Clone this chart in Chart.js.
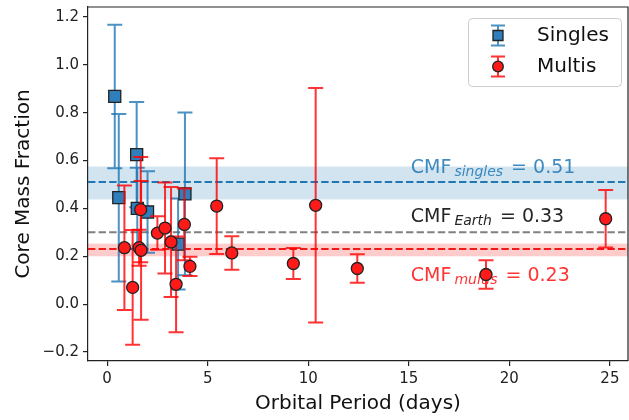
<!DOCTYPE html>
<html>
<head>
<meta charset="utf-8">
<script src="https://cdn.jsdelivr.net/npm/chart.js@4.4.1/dist/chart.umd.min.js"></script>
<style>
  html, body { margin: 0; padding: 0; background: #fff; }
  canvas { display: block; }
</style>
</head>
<body>
<canvas id="cmfChart" width="629" height="420"></canvas>
<script>
// Singles (blue squares)
const singlesPeriod = [0.38, 0.58, 1.47, 1.50, 2.01, 3.87, 3.53];
const singlesCmf    = [0.868, 0.445, 0.625, 0.40, 0.385, 0.461, 0.251];
const singlesErr    = [0.30, 0.35, 0.22, 0.17, 0.17, 0.34, 0.19];

// Multis (red circles)
const multisPeriod = [0.86, 1.27, 1.59, 1.69, 1.67, 2.50, 2.88, 3.18, 3.43, 3.84, 4.12, 5.45, 6.20, 9.26, 10.37, 12.44, 18.84, 24.79];
const multisCmf    = [0.236, 0.07, 0.236, 0.225, 0.395, 0.297, 0.318, 0.26, 0.083, 0.333, 0.158, 0.41, 0.214, 0.17, 0.413, 0.149, 0.124, 0.357];
const multisErr    = [0.26, 0.24, 0.075, 0.29, 0.22, 0.07, 0.19, 0.23, 0.20, 0.15, 0.04, 0.20, 0.07, 0.065, 0.49, 0.06, 0.06, 0.12];

// Reference levels: mean lines, shaded ranges and their labels
const levelNames  = ['singles', 'Earth', 'multis'];
const levelLines  = [0.51, 0.30, 0.23];
const levelLow    = [0.4375, null, 0.20];
const levelHigh   = [0.575, null, 0.253];
const levelLabels = ['0.51', '0.33', '0.23'];

const xTicks = [0, 5, 10, 15, 20, 25];
const yTicks = [-0.2, 0.0, 0.2, 0.4, 0.6, 0.8, 1.0, 1.2];

const FONT = '"DejaVu Sans", sans-serif';
const BLUE = '#1f77b4';

const toPoints = (xs, ys) => xs.map((x, i) => ({ x: x, y: ys[i] }));

// Error bars drawn right before each dataset's markers
const errorBars = {
    id: 'errorBars',
    beforeDatasetDraw(chart, args) {
        const ds = chart.data.datasets[args.index];
        if (!ds.errors) return;
        const { ctx, chartArea, scales: { x, y } } = chart;
        ctx.save();
        ctx.beginPath();
        ctx.rect(chartArea.left, chartArea.top, chartArea.width, chartArea.height);
        ctx.clip();
        ctx.strokeStyle = ds.errorColor;
        ctx.lineWidth = 2;
        ds.data.forEach((p, i) => {
            const px = x.getPixelForValue(p.x);
            const top = y.getPixelForValue(p.y + ds.errors[i]);
            const bot = y.getPixelForValue(p.y - ds.errors[i]);
            ctx.beginPath();
            ctx.moveTo(px, top); ctx.lineTo(px, bot);
            ctx.moveTo(px - 7.5, top); ctx.lineTo(px + 7.5, top);
            ctx.moveTo(px - 7.5, bot); ctx.lineTo(px + 7.5, bot);
            ctx.stroke();
        });
        ctx.restore();
    }
};

function drawCmfLabel(ctx, x, yBase, sub, val, color) {
    ctx.fillStyle = color;
    ctx.textBaseline = 'alphabetic';
    ctx.textAlign = 'left';
    ctx.font = '19px ' + FONT;
    ctx.fillText('CMF', x, yBase);
    let cx = x + ctx.measureText('CMF').width + 3;
    ctx.font = 'italic 14px ' + FONT;
    ctx.fillText(sub, cx, yBase + 3);
    cx += ctx.measureText(sub).width + 8;
    ctx.font = '19px ' + FONT;
    ctx.fillText('= ' + val, cx, yBase);
}

// Shaded ranges, dashed mean lines and their labels
const levels = {
    id: 'levels',
    beforeDatasetsDraw(chart) {
        const { ctx, chartArea: a, scales: { x, y } } = chart;
        const fills = ['rgba(31,119,180,0.2)', null, 'rgba(255,0,0,0.2)'];
        const lines = [BLUE, '#808080', '#f01a1a'];
        const texts = ['rgba(31,119,180,0.85)', '#262626', 'rgba(255,0,0,0.8)'];
        const textY = [0.55, 0.343, 0.097];
        ctx.save();
        levelNames.forEach((name, i) => {
            if (levelLow[i] !== null) {
                const t = y.getPixelForValue(levelHigh[i]);
                const b = y.getPixelForValue(levelLow[i]);
                ctx.fillStyle = fills[i];
                ctx.fillRect(a.left, t, a.width, b - t);
            }
        });
        levelNames.forEach((name, i) => {
            const py = y.getPixelForValue(levelLines[i]);
            ctx.strokeStyle = lines[i];
            ctx.lineWidth = 2;
            ctx.setLineDash([7.4, 3.2]);
            ctx.beginPath();
            ctx.moveTo(a.left, py);
            ctx.lineTo(a.right, py);
            ctx.stroke();
        });
        ctx.setLineDash([]);
        levelNames.forEach((name, i) => {
            drawCmfLabel(ctx, x.getPixelForValue(15.1), y.getPixelForValue(textY[i]), name, levelLabels[i], texts[i]);
        });
        ctx.restore();
    }
};

// Box frame and legend with error bar markers
const frameAndLegend = {
    id: 'frameAndLegend',
    afterDraw(chart) {
        const { ctx, chartArea: a } = chart;
        ctx.save();
        ctx.strokeStyle = '#222';
        ctx.lineWidth = 1.2;
        ctx.beginPath();
        ctx.moveTo(a.left, a.top); ctx.lineTo(a.right, a.top); ctx.lineTo(a.right, a.bottom);
        ctx.stroke();

        // legend box
        const lx = 468, ly = 18, lw = 153, lh = 68;
        ctx.fillStyle = 'rgba(255,255,255,0.8)';
        ctx.strokeStyle = '#cccccc';
        ctx.lineWidth = 1;
        ctx.beginPath();
        ctx.roundRect(lx + 0.5, ly + 0.5, lw, lh, 4);
        ctx.fill();
        ctx.stroke();

        const rows = [
            { y: 35.5, text: 'Singles', bar: 'rgba(31,119,180,0.8)', fill: '#307fbb', shape: 'square' },
            { y: 66.5, text: 'Multis', bar: 'rgba(255,0,0,0.8)', fill: '#ff1a1a', shape: 'circle' }
        ];
        const mx = 498;
        rows.forEach(r => {
            ctx.strokeStyle = r.bar;
            ctx.lineWidth = 2;
            ctx.beginPath();
            ctx.moveTo(mx, r.y - 10); ctx.lineTo(mx, r.y + 10);
            ctx.moveTo(mx - 7, r.y - 10); ctx.lineTo(mx + 7, r.y - 10);
            ctx.moveTo(mx - 7, r.y + 10); ctx.lineTo(mx + 7, r.y + 10);
            ctx.stroke();
            ctx.fillStyle = r.fill;
            ctx.strokeStyle = '#222';
            ctx.lineWidth = 1.3;
            ctx.beginPath();
            if (r.shape === 'square') ctx.rect(mx - 5, r.y - 5, 10, 10);
            else ctx.arc(mx, r.y, 5.3, 0, Math.PI * 2);
            ctx.fill();
            ctx.stroke();
            ctx.fillStyle = '#111';
            ctx.font = '20px ' + FONT;
            ctx.textAlign = 'left';
            ctx.textBaseline = 'middle';
            ctx.fillText(r.text, 537, r.y);
        });
        ctx.restore();
    }
};

const axisStyle = {
    grid: { display: true, drawOnChartArea: false, drawTicks: true, tickLength: 5, color: '#222', lineWidth: 1.2 },
    border: { display: true, color: '#222', width: 1.2 },
    ticks: { padding: 4, color: '#222', font: { family: FONT, size: 15 } }
};

new Chart(document.getElementById('cmfChart'), {
    type: 'scatter',
    data: {
        datasets: [
            {
                label: 'Multis',
                data: toPoints(multisPeriod, multisCmf),
                errors: multisErr,
                errorColor: 'rgba(255,0,0,0.8)',
                pointStyle: 'circle',
                pointRadius: 6,
                backgroundColor: '#ff1a1a',
                borderColor: '#222',
                borderWidth: 1.3,
                order: 0
            },
            {
                label: 'Singles',
                data: toPoints(singlesPeriod, singlesCmf),
                errors: singlesErr,
                errorColor: 'rgba(31,119,180,0.8)',
                pointStyle: 'rect',
                pointRadius: 8.5,
                backgroundColor: '#307fbb',
                borderColor: '#222',
                borderWidth: 1.3,
                order: 1
            }
        ]
    },
    options: {
        responsive: false,
        animation: false,
        devicePixelRatio: 1,
        layout: { autoPadding: false, padding: { top: 7, right: 1, left: 0, bottom: 0 } },
        plugins: {
            legend: { display: false },
            tooltip: { enabled: false }
        },
        scales: {
            x: {
                type: 'linear',
                min: -0.95,
                max: 25.9,
                ...axisStyle,
                afterBuildTicks: (scale) => { scale.ticks = xTicks.map(v => ({ value: v })); },
                afterFit: (scale) => {
                    scale.height = 59;
                    scale.paddingLeft = 0;
                    scale.paddingRight = 0;
                },
                title: {
                    display: true,
                    text: 'Orbital Period (days)',
                    color: '#111',
                    font: { family: FONT, size: 20 },
                    padding: { top: 0, bottom: 4.5 }
                }
            },
            y: {
                type: 'linear',
                min: -0.2375,
                max: 1.2417,
                ...axisStyle,
                ticks: {
                    ...axisStyle.ticks,
                    callback: (v) => v.toFixed(1).replace('-', '\u2212')
                },
                afterBuildTicks: (scale) => { scale.ticks = yTicks.map(v => ({ value: v })); },
                afterFit: (scale) => {
                    scale.width = 88;
                    scale.paddingTop = 0;
                    scale.paddingBottom = 0;
                },
                title: {
                    display: true,
                    text: 'Core Mass Fraction',
                    color: '#111',
                    font: { family: FONT, size: 20 },
                    padding: { top: 12, bottom: 0 }
                }
            }
        }
    },
    plugins: [errorBars, levels, frameAndLegend]
});
</script>
</body>
</html>
